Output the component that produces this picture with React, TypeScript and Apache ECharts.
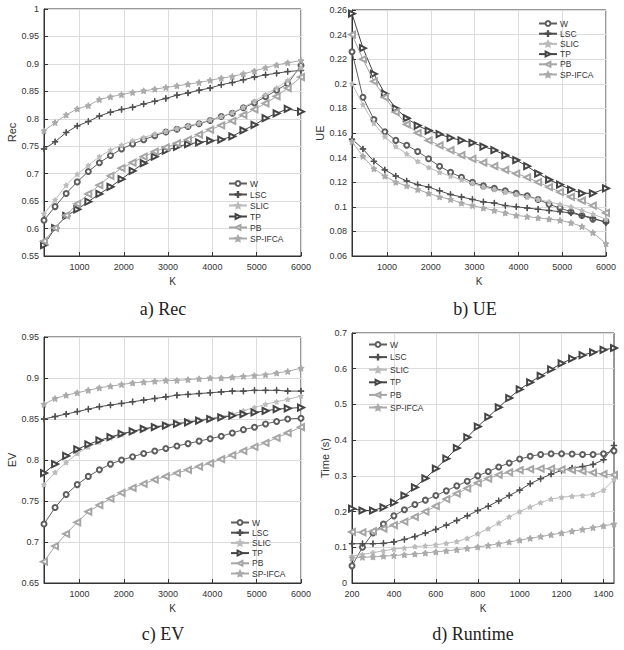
import React, { useEffect, useRef } from "react";
import * as echarts from "echarts";

const NAMES = ["W", "LSC", "SLIC", "TP", "PB", "SP-IFCA"];

const K_MAIN = [200, 450, 700, 950, 1200, 1450, 1700, 1950, 2200, 2450, 2700, 2950, 3200, 3450, 3700, 3950, 4200, 4450, 4700, 4950, 5200, 5450, 5700, 6000];
const K_TIME = [200, 250, 300, 350, 400, 450, 500, 550, 600, 650, 700, 750, 800, 850, 900, 950, 1000, 1050, 1100, 1150, 1200, 1250, 1300, 1350, 1400, 1450];

const MAIN_TICKS = [1000, 2000, 3000, 4000, 5000, 6000];
const TIME_TICKS = [200, 400, 600, 800, 1000, 1200, 1400];

// a) Rec
const REC_W = [0.615, 0.640, 0.664, 0.685, 0.704, 0.720, 0.733, 0.745, 0.754, 0.762, 0.769, 0.776, 0.781, 0.786, 0.791, 0.797, 0.804, 0.810, 0.820, 0.829, 0.840, 0.852, 0.864, 0.897];
const REC_LSC = [0.745, 0.758, 0.775, 0.787, 0.795, 0.805, 0.812, 0.817, 0.821, 0.827, 0.832, 0.837, 0.843, 0.847, 0.852, 0.856, 0.862, 0.866, 0.871, 0.876, 0.880, 0.883, 0.886, 0.888];
const REC_SLIC = [0.627, 0.652, 0.679, 0.699, 0.715, 0.731, 0.743, 0.752, 0.760, 0.766, 0.772, 0.777, 0.782, 0.787, 0.792, 0.798, 0.804, 0.811, 0.821, 0.832, 0.844, 0.856, 0.870, 0.893];
const REC_TP = [0.570, 0.601, 0.623, 0.635, 0.649, 0.663, 0.676, 0.690, 0.705, 0.719, 0.731, 0.742, 0.749, 0.754, 0.757, 0.760, 0.762, 0.768, 0.779, 0.789, 0.801, 0.810, 0.818, 0.813];
const REC_PB = [0.577, 0.601, 0.624, 0.645, 0.663, 0.679, 0.696, 0.710, 0.720, 0.731, 0.740, 0.748, 0.755, 0.762, 0.771, 0.780, 0.788, 0.796, 0.807, 0.817, 0.828, 0.841, 0.856, 0.876];
const REC_SP = [0.778, 0.793, 0.807, 0.818, 0.824, 0.835, 0.840, 0.844, 0.848, 0.851, 0.854, 0.857, 0.860, 0.863, 0.866, 0.870, 0.874, 0.877, 0.882, 0.887, 0.893, 0.898, 0.902, 0.906];

// b) UE
const UE_W = [0.226, 0.189, 0.171, 0.161, 0.154, 0.150, 0.145, 0.139, 0.133, 0.128, 0.124, 0.120, 0.117, 0.115, 0.113, 0.111, 0.109, 0.106, 0.102, 0.099, 0.096, 0.093, 0.090, 0.088];
const UE_LSC = [0.155, 0.147, 0.137, 0.130, 0.125, 0.121, 0.118, 0.116, 0.113, 0.110, 0.108, 0.106, 0.104, 0.103, 0.101, 0.100, 0.099, 0.098, 0.097, 0.096, 0.095, 0.093, 0.091, 0.087];
const UE_SLIC = [0.200, 0.183, 0.168, 0.157, 0.149, 0.143, 0.137, 0.132, 0.128, 0.125, 0.122, 0.119, 0.116, 0.114, 0.112, 0.110, 0.108, 0.106, 0.104, 0.102, 0.100, 0.097, 0.094, 0.090];
const UE_TP = [0.257, 0.229, 0.208, 0.192, 0.180, 0.172, 0.166, 0.162, 0.159, 0.156, 0.154, 0.152, 0.149, 0.146, 0.142, 0.138, 0.133, 0.127, 0.122, 0.118, 0.114, 0.111, 0.111, 0.115];
const UE_PB = [0.240, 0.220, 0.202, 0.189, 0.177, 0.167, 0.160, 0.154, 0.150, 0.146, 0.142, 0.139, 0.136, 0.133, 0.130, 0.127, 0.124, 0.120, 0.116, 0.112, 0.108, 0.105, 0.101, 0.095];
const UE_SP = [0.153, 0.141, 0.131, 0.125, 0.120, 0.117, 0.114, 0.111, 0.108, 0.106, 0.103, 0.101, 0.099, 0.097, 0.095, 0.093, 0.092, 0.091, 0.090, 0.089, 0.087, 0.084, 0.079, 0.070];

// c) EV
const EV_W = [0.722, 0.742, 0.758, 0.770, 0.780, 0.788, 0.795, 0.800, 0.804, 0.808, 0.811, 0.814, 0.817, 0.820, 0.823, 0.826, 0.829, 0.833, 0.837, 0.840, 0.844, 0.847, 0.850, 0.851];
const EV_LSC = [0.850, 0.853, 0.856, 0.859, 0.862, 0.865, 0.867, 0.869, 0.871, 0.873, 0.875, 0.877, 0.879, 0.880, 0.881, 0.882, 0.883, 0.884, 0.884, 0.885, 0.885, 0.885, 0.884, 0.884];
const EV_SLIC = [0.770, 0.785, 0.797, 0.808, 0.816, 0.822, 0.827, 0.831, 0.835, 0.838, 0.841, 0.843, 0.845, 0.847, 0.849, 0.851, 0.853, 0.856, 0.860, 0.864, 0.868, 0.871, 0.874, 0.878];
const EV_TP = [0.784, 0.795, 0.805, 0.813, 0.819, 0.824, 0.828, 0.832, 0.835, 0.838, 0.840, 0.842, 0.844, 0.846, 0.848, 0.850, 0.852, 0.854, 0.856, 0.858, 0.860, 0.862, 0.863, 0.864];
const EV_PB = [0.676, 0.695, 0.710, 0.724, 0.737, 0.745, 0.753, 0.760, 0.766, 0.771, 0.776, 0.780, 0.784, 0.788, 0.792, 0.796, 0.801, 0.806, 0.811, 0.816, 0.821, 0.827, 0.833, 0.840];
const EV_SP = [0.868, 0.875, 0.879, 0.882, 0.885, 0.888, 0.890, 0.892, 0.894, 0.895, 0.896, 0.897, 0.897, 0.898, 0.899, 0.900, 0.900, 0.901, 0.902, 0.903, 0.904, 0.906, 0.908, 0.912];

// d) Runtime
const RT_W = [0.048, 0.100, 0.140, 0.165, 0.188, 0.205, 0.220, 0.232, 0.245, 0.258, 0.272, 0.285, 0.300, 0.312, 0.325, 0.336, 0.347, 0.355, 0.360, 0.362, 0.362, 0.361, 0.360, 0.360, 0.362, 0.370];
const RT_LSC = [0.110, 0.110, 0.110, 0.111, 0.115, 0.122, 0.130, 0.140, 0.150, 0.162, 0.175, 0.188, 0.203, 0.215, 0.230, 0.245, 0.260, 0.278, 0.292, 0.305, 0.315, 0.322, 0.326, 0.332, 0.345, 0.385];
const RT_SLIC = [0.075, 0.080, 0.085, 0.090, 0.095, 0.098, 0.102, 0.104, 0.107, 0.111, 0.116, 0.125, 0.138, 0.152, 0.168, 0.185, 0.200, 0.213, 0.225, 0.235, 0.240, 0.243, 0.245, 0.248, 0.260, 0.290];
const RT_TP = [0.208, 0.203, 0.203, 0.212, 0.225, 0.245, 0.268, 0.293, 0.320, 0.348, 0.378, 0.408, 0.438, 0.465, 0.492, 0.518, 0.542, 0.562, 0.580, 0.598, 0.615, 0.628, 0.638, 0.646, 0.653, 0.658];
const RT_PB = [0.143, 0.142, 0.145, 0.152, 0.162, 0.172, 0.185, 0.200, 0.215, 0.235, 0.250, 0.265, 0.280, 0.292, 0.303, 0.310, 0.316, 0.319, 0.320, 0.320, 0.318, 0.316, 0.313, 0.309, 0.305, 0.303];
const RT_SP = [0.070, 0.072, 0.073, 0.075, 0.077, 0.079, 0.081, 0.084, 0.087, 0.090, 0.093, 0.097, 0.101, 0.105, 0.110, 0.115, 0.120, 0.125, 0.130, 0.135, 0.140, 0.145, 0.150, 0.155, 0.160, 0.165];

const STAR =
  "path://M0,-10 L2.9,-4 L9.5,-3.1 L4.7,1.5 L5.9,8.1 L0,5 L-5.9,8.1 L-4.7,1.5 L-9.5,-3.1 L-2.9,-4 Z";
const PLUS =
  "path://M-10,-0.9 L-0.9,-0.9 L-0.9,-10 L0.9,-10 L0.9,-0.9 L10,-0.9 L10,0.9 L0.9,0.9 L0.9,10 L-0.9,10 L-0.9,0.9 L-10,0.9 Z";

const STYLE: Record<string, any> = {
  W: { color: "#5e5e5e", symbol: "emptyCircle", size: 5, rotate: 0 },
  LSC: { color: "#4e4e4e", symbol: PLUS, size: 6, rotate: 0 },
  SLIC: { color: "#bbbbbb", symbol: STAR, size: 5, rotate: 0 },
  TP: { color: "#444444", symbol: "emptyTriangle", size: 6, rotate: -90 },
  PB: { color: "#a5a5a5", symbol: "emptyTriangle", size: 6, rotate: 90 },
  "SP-IFCA": { color: "#aaaaaa", symbol: STAR, size: 6, rotate: 0 },
};

const FONT = "Liberation Sans";

function makeSeries(idx: number, xs: number[], sets: number[][]) {
  return NAMES.map((name, j) => {
    const st = STYLE[name];
    return {
      type: "line",
      name,
      xAxisIndex: idx,
      yAxisIndex: idx,
      data: xs.map((x, i) => [x, sets[j][i]]),
      symbol: st.symbol,
      symbolSize: st.size,
      symbolRotate: st.rotate,
      showAllSymbol: true,
      silent: true,
      lineStyle: { color: st.color, width: 1 },
      itemStyle: { color: st.color, borderColor: st.color, borderWidth: 1 },
      z: 2 + j,
    };
  });
}

function xAxis(idx: number, min: number, max: number, ticks: number[]) {
  return {
    type: "value",
    gridIndex: idx,
    min,
    max,
    name: "K",
    nameLocation: "middle",
    nameGap: 20,
    nameTextStyle: { fontFamily: FONT, fontSize: 10, color: "#333" },
    axisLine: { show: true, lineStyle: { color: "#333", width: 1 } },
    axisTick: { show: true, inside: true, length: 4, customValues: ticks, lineStyle: { color: "#333" } },
    axisLabel: {
      customValues: ticks,
      fontFamily: FONT,
      fontSize: 9,
      color: "#333",
      margin: 6,
      formatter: (v: number) => String(v),
    },
    splitLine: { show: true, lineStyle: { color: "#dcdcdc", width: 1 } },
  };
}

function yAxis(idx: number, name: string, min: number, max: number, interval: number, gap: number) {
  return {
    type: "value",
    gridIndex: idx,
    min,
    max,
    interval,
    name,
    nameLocation: "middle",
    nameGap: gap,
    nameTextStyle: { fontFamily: FONT, fontSize: 11, color: "#333" },
    axisLine: { show: true, lineStyle: { color: "#333", width: 1 } },
    axisTick: { show: true, inside: true, length: 4, lineStyle: { color: "#333" } },
    axisLabel: { fontFamily: FONT, fontSize: 9, color: "#333", margin: 5 },
    splitLine: { show: true, lineStyle: { color: "#dcdcdc", width: 1 } },
  };
}

function legend(left: number, top: number, gap: number) {
  return {
    data: NAMES,
    orient: "vertical",
    left,
    top,
    padding: 0,
    itemWidth: 18,
    itemHeight: 6,
    itemGap: gap,
    selectedMode: false,
    textStyle: { fontFamily: FONT, fontSize: 8.5, color: "#333", padding: [0, 0, 0, -2] },
  };
}

function caption(text: string, x: number, y: number) {
  return {
    type: "text",
    x,
    y,
    style: {
      text,
      font: '18px "Liberation Serif"',
      fill: "#222",
      align: "center",
      verticalAlign: "middle",
    },
  };
}

export default function App() {
  const ref = useRef<HTMLDivElement>(null);
  useEffect(() => {
    if (!ref.current) return;
    const chart = echarts.init(ref.current, null, { renderer: "svg" });
    const grid = (left: number, top: number, width: number, height: number) => ({
      left,
      top,
      width,
      height,
      show: true,
      borderColor: "#333",
      borderWidth: 1,
      backgroundColor: "transparent",
    });
    chart.setOption({
      animation: false,
      backgroundColor: "#fff",
      grid: [
        grid(44, 9, 257, 247),
        grid(352, 10, 254, 246),
        grid(44, 337, 257, 246),
        grid(352, 333, 262, 250),
      ],
      xAxis: [
        xAxis(0, 200, 6000, MAIN_TICKS),
        xAxis(1, 200, 6000, MAIN_TICKS),
        xAxis(2, 200, 6000, MAIN_TICKS),
        xAxis(3, 200, 1450, TIME_TICKS),
      ],
      yAxis: [
        yAxis(0, "Rec", 0.55, 1, 0.05, 24),
        yAxis(1, "UE", 0.06, 0.26, 0.02, 25),
        yAxis(2, "EV", 0.65, 0.95, 0.05, 24),
        yAxis(3, "Time (s)", 0, 0.7, 0.1, 20),
      ],
      legend: [legend(228, 179, 2), legend(538, 19, 1.2), legend(230, 518, 1.2), legend(368, 340, 3.6)],
      series: [
        ...makeSeries(0, K_MAIN, [REC_W, REC_LSC, REC_SLIC, REC_TP, REC_PB, REC_SP]),
        ...makeSeries(1, K_MAIN, [UE_W, UE_LSC, UE_SLIC, UE_TP, UE_PB, UE_SP]),
        ...makeSeries(2, K_MAIN, [EV_W, EV_LSC, EV_SLIC, EV_TP, EV_PB, EV_SP]),
        ...makeSeries(3, K_TIME, [RT_W, RT_LSC, RT_SLIC, RT_TP, RT_PB, RT_SP]),
      ],
      graphic: [
        caption("a) Rec", 163, 309),
        caption("b) UE", 475, 309),
        caption("c) EV", 163, 634),
        caption("d) Runtime", 473, 634),
      ],
    });
    return () => chart.dispose();
  }, []);
  return <div ref={ref} style={{ position: "fixed", left: 0, top: 0, width: 624, height: 650 }} />;
}
